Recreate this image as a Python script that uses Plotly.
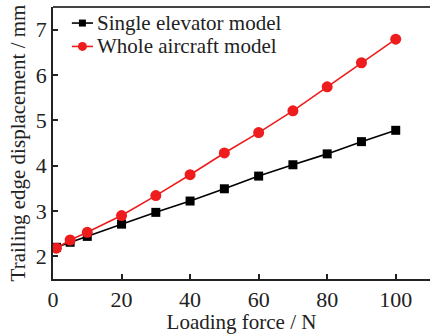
import plotly.graph_objects as go

# Loading force (N) at which the trailing edge displacement was evaluated
load_force = [1, 5, 10, 20, 30, 40, 50, 60, 70, 80, 90, 100]

# Trailing edge displacement (mm)
single_elevator = [2.20, 2.31, 2.44, 2.71, 2.97, 3.22, 3.49, 3.77, 4.02, 4.26, 4.53, 4.78]
whole_aircraft = [2.18, 2.36, 2.53, 2.90, 3.34, 3.80, 4.28, 4.73, 5.21, 5.74, 6.27, 6.79]

series_names = ["Single elevator model", "Whole aircraft model"]
series_colors = ["#000000", "#ee1c1c"]
series_symbols = ["square", "circle"]
series_sizes = [9, 11]

x_ticks = [0, 20, 40, 60, 80, 100]
y_ticks = [2, 3, 4, 5, 6, 7]

FONT = "Liberation Serif"
TEXT = "#222222"

fig = go.Figure()
for name, ys, col, sym, sz in zip(series_names, [single_elevator, whole_aircraft],
                                  series_colors, series_symbols, series_sizes):
    fig.add_trace(go.Scatter(
        x=load_force, y=ys, name=name, mode="lines+markers",
        line=dict(color=col, width=1.6),
        marker=dict(symbol=sym, size=sz, color=col),
        showlegend=False,
    ))

# compact legend drawn on an overlay axis spanning the plot area (0..1 both ways)
leg_rows = [0.941, 0.855]
leg_x0, leg_x1, leg_text_x = 0.05, 0.106, 0.111
for name, col, sym, sz, ry in zip(series_names, series_colors, series_symbols,
                                  series_sizes, leg_rows):
    fig.add_shape(type="line", xref="paper", yref="paper",
                  x0=leg_x0, x1=leg_x1, y0=ry, y1=ry,
                  line=dict(color=col, width=1.6))
    fig.add_trace(go.Scatter(
        x=[(leg_x0 + leg_x1) / 2], y=[ry], xaxis="x2", yaxis="y2",
        mode="markers", marker=dict(symbol=sym, size=sz - 2, color=col),
        showlegend=False, hoverinfo="skip",
    ))
    fig.add_annotation(x=leg_text_x, y=ry, xref="paper", yref="paper",
                       text=name, showarrow=False, xanchor="left", yanchor="middle",
                       font=dict(family=FONT, size=21, color=TEXT))

axis_common = dict(
    showline=True, linecolor=TEXT, linewidth=1.8,
    ticks="inside", ticklen=5, tickwidth=1.5, tickcolor=TEXT,
    showgrid=False, zeroline=False,
    tickfont=dict(family=FONT, size=22, color=TEXT),
)

fig.update_layout(
    xaxis=dict(range=[0, 110], tickvals=x_ticks,
               title=dict(text="Loading force / N",
                          font=dict(family=FONT, size=21, color=TEXT), standoff=2),
               **axis_common),
    yaxis=dict(range=[1.5, 7.5], tickvals=y_ticks,
               title=dict(text="Trailing edge displacement / mm",
                          font=dict(family=FONT, size=21, color=TEXT), standoff=4),
               **axis_common),
    xaxis2=dict(overlaying="x", range=[0, 1], visible=False, fixedrange=True),
    yaxis2=dict(overlaying="y", range=[0, 1], visible=False, fixedrange=True),
)

# top frame line of the plot box
fig.add_shape(type="line", xref="paper", yref="paper", x0=0, x1=1, y0=1, y1=1,
              line=dict(color="#444444", width=2))

fig.update_layout(
    width=430, height=334,
    margin=dict(l=53, r=0, t=7, b=55),
    paper_bgcolor="white", plot_bgcolor="white",
    font=dict(family=FONT, size=21, color=TEXT),
    showlegend=False,
)

fig.write_html("out.html")
